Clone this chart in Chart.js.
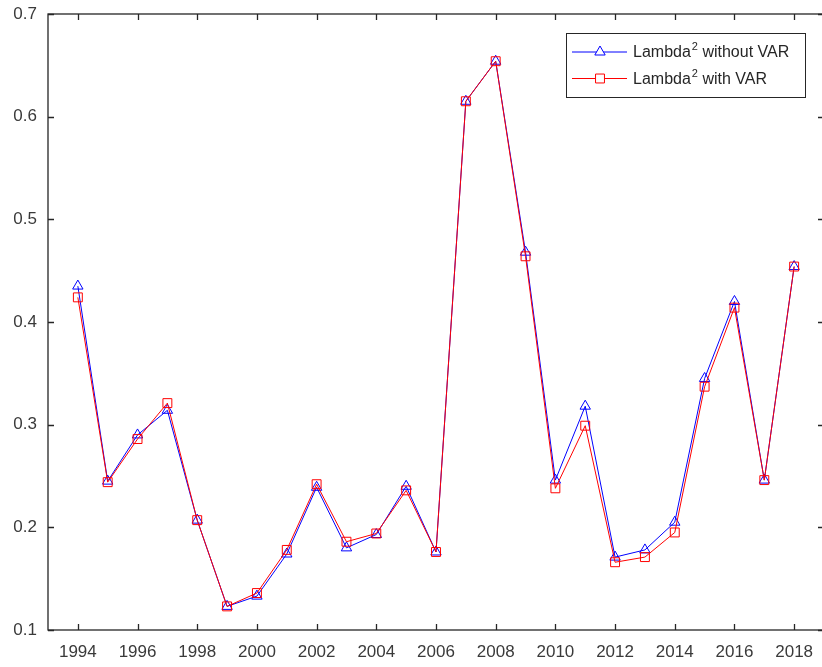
<!DOCTYPE html>
<html>
<head>
<meta charset="utf-8">
<script src="https://cdn.jsdelivr.net/npm/chart.js@4/dist/chart.umd.min.js"></script>
<style>
html,body{margin:0;padding:0;background:#fff;overflow:hidden;}
#wrap{width:822px;height:667px;overflow:hidden;position:relative;}
#c{display:block;}
</style>
</head>
<body>
<div id="wrap"><canvas id="c" width="826" height="667"></canvas></div>
<script>
const years = [1994,1995,1996,1997,1998,1999,2000,2001,2002,2003,2004,2005,2006,2007,2008,2009,2010,2011,2012,2013,2014,2015,2016,2017,2018];
const withoutVar = [0.435,0.245,0.290,0.314,0.207,0.123,0.133,0.174,0.239,0.180,0.193,0.240,0.176,0.615,0.654,0.468,0.246,0.318,0.171,0.178,0.205,0.345,0.420,0.246,0.454];
const withVar    = [0.424,0.244,0.286,0.321,0.207,0.123,0.136,0.178,0.242,0.186,0.194,0.236,0.176,0.615,0.654,0.464,0.238,0.299,0.166,0.171,0.195,0.337,0.414,0.246,0.454];
const xTicks = [1994,1996,1998,2000,2002,2004,2006,2008,2010,2012,2014,2016,2018];
const yTicks = [0.1,0.2,0.3,0.4,0.5,0.6,0.7];
const seriesLabels = ['Lambda² without VAR','Lambda² with VAR'];

const FONT = "'Liberation Sans', Arial, sans-serif";
const AXIS_COLOR = '#262626';
const TEXT_COLOR = '#3a3a3a';

const framePlugin = {
  id: 'frame',
  afterDraw(chart) {
    const ctx = chart.ctx, a = chart.chartArea;
    const xs = chart.scales.x, ys = chart.scales.y;
    ctx.save();
    ctx.strokeStyle = AXIS_COLOR;
    ctx.lineWidth = 1.3;
    ctx.strokeRect(a.left, a.top, a.right - a.left, a.bottom - a.top);
    const tl = 6;
    ctx.beginPath();
    xTicks.forEach(v => {
      const px = Math.round(xs.getPixelForValue(v)) + 0.5;
      ctx.moveTo(px, a.bottom); ctx.lineTo(px, a.bottom - tl);
      ctx.moveTo(px, a.top); ctx.lineTo(px, a.top + tl);
    });
    yTicks.forEach(v => {
      const py = Math.round(ys.getPixelForValue(v)) + 0.5;
      ctx.moveTo(a.left, py); ctx.lineTo(a.left + tl, py);
      ctx.moveTo(a.right, py); ctx.lineTo(a.right - tl, py);
    });
    ctx.stroke();

    // legend
    const bx = a.right - 258, by = a.top + 19, bw = 239, bh = 64;
    ctx.fillStyle = '#fff';
    ctx.fillRect(bx, by, bw, bh);
    ctx.lineWidth = 1;
    ctx.strokeStyle = '#262626';
    ctx.strokeRect(bx + 0.5, by + 0.5, bw, bh);
    const rows = [by + 19, by + 45.5];
    chart.data.datasets.slice().sort((p,q)=>p.legendIndex-q.legendIndex).forEach((ds, i) => {
      const ry = rows[i];
      ctx.strokeStyle = ds.borderColor;
      ctx.lineWidth = 1;
      ctx.beginPath();
      ctx.moveTo(bx + 6, ry); ctx.lineTo(bx + 61, ry);
      ctx.stroke();
      ctx.fillStyle = '#ffffff';
      Chart.helpers.drawPoint(ctx, {pointStyle: ds.pointStyle, radius: ds.pointRadius, borderWidth: 1}, bx + 34, ry);
      const parts = ds.label.split('²');
      ctx.fillStyle = '#262626';
      ctx.textBaseline = 'middle';
      ctx.textAlign = 'left';
      ctx.font = '16px ' + FONT;
      let tx = bx + 67;
      ctx.fillText(parts[0], tx, ry + 1);
      tx += ctx.measureText(parts[0]).width + 1;
      ctx.font = '11px ' + FONT;
      ctx.fillText('2', tx, ry - 5);
      tx += ctx.measureText('2').width;
      ctx.font = '16px ' + FONT;
      ctx.fillText(parts[1], tx, ry + 1);
    });
    ctx.restore();
  }
};

new Chart(document.getElementById('c'), {
  type: 'line',
  data: {
    datasets: [
      {
        label: seriesLabels[0],
        legendIndex: 0,
        data: years.map((y, i) => ({x: y, y: withoutVar[i]})),
        borderColor: '#0000ff',
        backgroundColor: 'rgba(0,0,0,0)',
        borderWidth: 1,
        pointStyle: 'triangle',
        pointRadius: 6,
        pointBorderWidth: 1,
        pointBorderColor: '#0000ff',
        pointBackgroundColor: 'rgba(0,0,0,0)',
        tension: 0,
        order: 1
      },
      {
        label: seriesLabels[1],
        legendIndex: 1,
        data: years.map((y, i) => ({x: y, y: withVar[i]})),
        borderColor: '#ff0000',
        backgroundColor: 'rgba(0,0,0,0)',
        borderWidth: 1,
        pointStyle: 'rect',
        pointRadius: 6.3,
        pointBorderWidth: 1,
        pointBorderColor: '#ff0000',
        pointBackgroundColor: 'rgba(0,0,0,0)',
        tension: 0,
        order: 0
      }
    ]
  },
  options: {
    responsive: false,
    animation: false,
    layout: { autoPadding: false, padding: { top: 14, right: 2, left: 0, bottom: 0 } },
    plugins: { legend: { display: false }, tooltip: { enabled: false } },
    scales: {
      x: {
        type: 'linear',
        min: 1993, max: 2019,
        grid: { display: false, drawTicks: false },
        border: { display: false },
        afterBuildTicks: s => { s.ticks = xTicks.map(v => ({value: v})); },
        afterFit: s => { s.height = 37; s.paddingLeft = 0; s.paddingRight = 0; },
        ticks: {
          autoSkip: false, maxRotation: 0,
          padding: 12,
          color: TEXT_COLOR,
          font: { family: FONT, size: 17 },
          callback: v => String(v)
        }
      },
      y: {
        type: 'linear',
        min: 0.1, max: 0.7,
        grid: { display: false, drawTicks: false },
        border: { display: false },
        afterBuildTicks: s => { s.ticks = yTicks.map(v => ({value: v})); },
        afterFit: s => { s.width = 48; s.paddingTop = 0; s.paddingBottom = 0; },
        ticks: {
          padding: 11,
          color: TEXT_COLOR,
          font: { family: FONT, size: 17 },
          callback: v => Number(v).toFixed(1)
        }
      }
    }
  },
  plugins: [framePlugin]
});
</script>
</body>
</html>
